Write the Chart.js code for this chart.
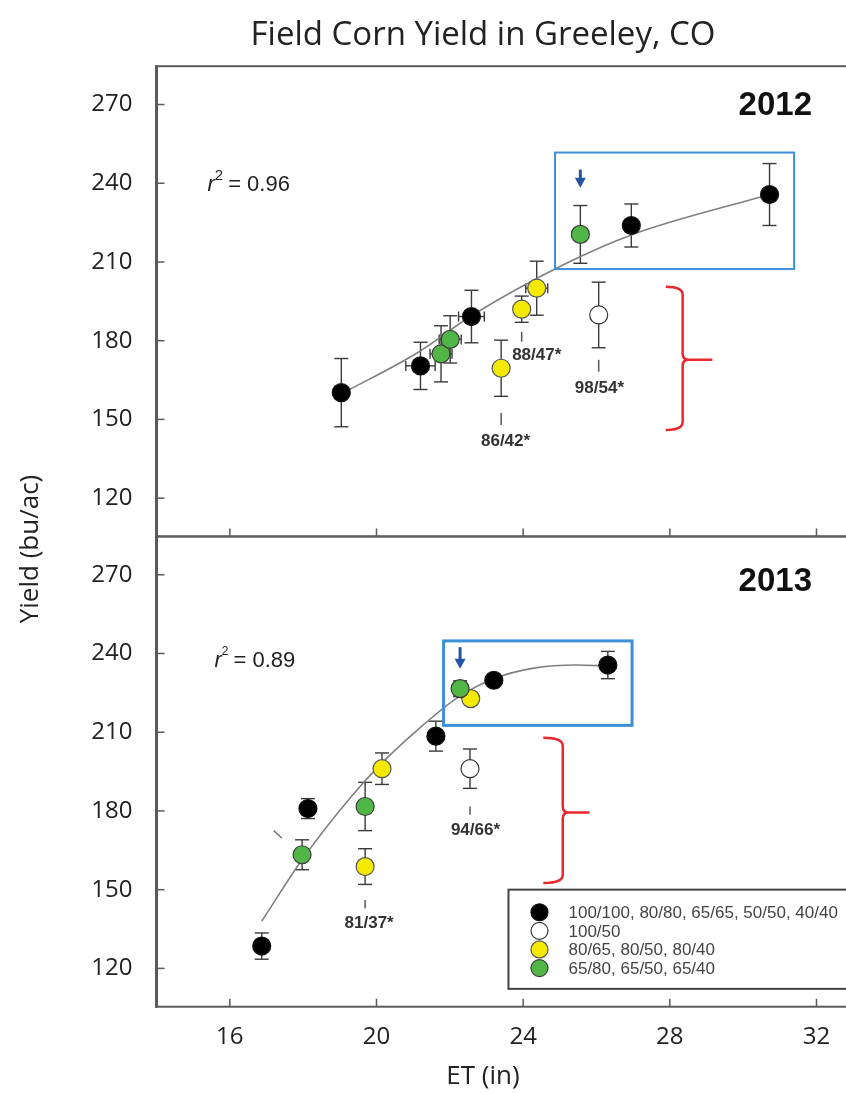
<!DOCTYPE html>
<html>
<head>
<meta charset="utf-8">
<title>Field Corn Yield in Greeley, CO</title>
<script src="https://cdn.jsdelivr.net/npm/chart.js@4.4.1/dist/chart.umd.min.js"></script>
<style>
  html, body { margin: 0; padding: 0; background: #fff; overflow: hidden; }
  #wrap { width: 900px; height: 1093px; }
</style>
</head>
<body>
<div id="wrap"><canvas id="yieldChart" width="900" height="1093"></canvas></div>
<script>
// Values
const groupLabels = ['100/100, 80/80, 65/65, 50/50, 40/40', '100/50', '80/65, 80/50, 80/40', '65/80, 65/50, 65/40'];
const xTicks = [16, 20, 24, 28, 32];
const yTicks = [120, 150, 180, 210, 240, 270];
const etMin = 14, etMax = 34;
const yieldMin = 105.4, yieldMax = 284.6;

// 2012
const full2012Et = [19.04, 21.2, 22.59, 26.95, 30.72];
const full2012Yield = [160.2, 170.4, 189.2, 223.9, 235.7];
const full2012Err = [13, 9, 10, 8.2, 11.8];
const full2012EtErr = [0, 0.4, 0.35, 0.2, 0];
const half2012Et = [26.06];
const half2012Yield = [189.8];
const half2012Err = [12.5];
const yellow2012Et = [23.4, 23.96, 24.37];
const yellow2012Yield = [169.5, 192, 200];
const yellow2012Err = [10.7, 5, 10.3];
const yellow2012EtErr = [0, 0, 0.3];
const green2012Et = [21.76, 22.01, 25.56];
const green2012Yield = [175, 180.5, 220.5];
const green2012Err = [10.7, 9, 11];
const green2012EtErr = [0.3, 0.3, 0];
const fit2012Et = [19.05, 21.13, 22.59, 25.18, 26.99, 30.72];
const fit2012Yield = [159.8, 175.5, 189.5, 209.5, 220.5, 235.7];

// 2013
const full2013Et = [16.87, 18.13, 21.62, 23.2, 26.31];
const full2013Yield = [128.5, 180.9, 208.5, 229.8, 235.6];
const full2013Err = [5, 3.8, 5.7, 1.5, 5.2];
const half2013Et = [22.55];
const half2013Yield = [196.1];
const half2013Err = [7.5];
const yellow2013Et = [19.69, 20.15, 22.57];
const yellow2013Yield = [158.8, 196.1, 222.8];
const yellow2013Err = [6.8, 6, 1.5];
const green2013Et = [17.97, 19.69, 22.28];
const green2013Yield = [163.3, 181.7, 226.6];
const green2013Err = [5.7, 9.2, 3];
const fit2013Et = [16.87, 17.97, 19.32, 20.15, 21.13, 22.21, 23.2, 24.37, 25.45, 26.31];
const fit2013Yield = [138, 161.4, 185.6, 198.3, 211, 223.2, 230.4, 234.6, 235.6, 235.2];

// Styling
const fills = ['#000000', '#ffffff', '#f4e900', '#50b646'];
const edges = ['#111111', '#333333', '#555555', '#3d3d3d'];
const stackOrder = [3, 2, 1, 0];
const sans = "'Open Sans', sans-serif";
const arial = "'Liberation Sans', Arial, sans-serif";

// Annotations, in data units of each panel
const notes = {
    yTop: {
        r2: [15.39, 239.3, '0.96', 15],
        year: [31.77, 269.4, '2012'],
        box: [24.87, 31.39, 207.3, 251.7],
        arrow: [25.56, 245.2, 238.3],
        brace: [27.89, 28.35, 29.16, 200.6, 172.7, 146],
        tags: [
            [23.4, 152.4, 147.9, 23.52, 141.6, '86/42*'],
            [23.96, 183.4, 179.6, 24.37, 174.6, '88/47*'],
            [26.06, 172.7, 168.2, 26.08, 162, '98/54*']
        ],
        strays: []
    },
    yBottom: {
        r2: [15.58, 237.1, '0.89', 12],
        year: [31.77, 267.2, '2013'],
        box: [21.83, 26.97, 212.6, 244.8],
        arrow: [22.28, 242.4, 234.2],
        brace: [24.55, 25.08, 25.81, 207.9, 179.4, 152.5],
        tags: [
            [22.55, 181.7, 178.5, 22.7, 172.8, '94/66*'],
            [19.69, 146.1, 142.9, 19.8, 137.2, '81/37*']
        ],
        strays: [[17.2, 172.5, 17.42, 169.6]]
    }
};

function pts(xs, ys) {
    return xs.map((x, i) => ({x: x, y: ys[i]}));
}

function groupSet(g, axis, xs, ys, err, etErr) {
    return {
        label: groupLabels[g],
        yAxisID: axis,
        data: pts(xs, ys),
        errY: err,
        errX: etErr || [],
        backgroundColor: fills[g],
        borderColor: edges[g],
        borderWidth: 1.2,
        pointRadius: 9,
        pointHoverRadius: 9,
        order: stackOrder[g]
    };
}

function fitSet(axis, xs, ys) {
    return {
        label: 'fit',
        yAxisID: axis,
        data: pts(xs, ys),
        showLine: true,
        borderColor: '#808080',
        borderWidth: 1.6,
        pointRadius: 0,
        cubicInterpolationMode: 'monotone',
        fill: false,
        order: 9
    };
}

function seg(ctx, x1, y1, x2, y2) {
    ctx.beginPath();
    ctx.moveTo(x1, y1);
    ctx.lineTo(x2, y2);
    ctx.stroke();
}

const decor = {
    id: 'decor',
    beforeDatasetsDraw(chart) {
        const ctx = chart.ctx;
        const x = chart.scales.x;
        ctx.save();
        ctx.strokeStyle = '#3a3a3a';
        ctx.lineWidth = 1.4;
        chart.data.datasets.forEach(ds => {
            if (!ds.errY) return;
            const y = chart.scales[ds.yAxisID];
            ds.data.forEach((p, i) => {
                const px = x.getPixelForValue(p.x);
                const py = y.getPixelForValue(p.y);
                const e = ds.errY[i] || 0;
                if (e) {
                    const t = y.getPixelForValue(p.y + e);
                    const b = y.getPixelForValue(p.y - e);
                    seg(ctx, px, t, px, b);
                    seg(ctx, px - 7, t, px + 7, t);
                    seg(ctx, px - 7, b, px + 7, b);
                }
                const h = ds.errX[i] || 0;
                if (h) {
                    const l = x.getPixelForValue(p.x - h);
                    const r = x.getPixelForValue(p.x + h);
                    seg(ctx, l, py, r, py);
                    seg(ctx, l, py - 5, l, py + 5);
                    seg(ctx, r, py - 5, r, py + 5);
                }
            });
        });
        ctx.restore();
    },
    afterDraw(chart) {
        const ctx = chart.ctx;
        const area = chart.chartArea;
        const x = chart.scales.x;
        ctx.save();

        // Panel frames and inward ticks
        ['yTop', 'yBottom'].forEach(id => {
            const y = chart.scales[id];
            ctx.strokeStyle = '#5a5a5a';
            ctx.lineWidth = 2;
            ctx.strokeRect(area.left, y.top, area.right - area.left + 20, y.bottom - y.top);
            ctx.lineWidth = 3;
            seg(ctx, area.left, y.top - 1, area.left, y.bottom + 1);
            ctx.lineWidth = 1.5;
            yTicks.forEach(v => {
                const py = y.getPixelForValue(v);
                seg(ctx, area.left, py, area.left + 8, py);
            });
            xTicks.forEach(v => {
                const px = x.getPixelForValue(v);
                seg(ctx, px, y.bottom, px, y.bottom - 8);
            });
        });

        // Annotations
        Object.keys(notes).forEach(id => {
            const y = chart.scales[id];
            const n = notes[id];
            const X = v => x.getPixelForValue(v);
            const Y = v => y.getPixelForValue(v);

            // highlight box
            ctx.strokeStyle = '#3d90d8';
            ctx.lineWidth = id === 'yTop' ? 2 : 3;
            ctx.strokeRect(X(n.box[0]), Y(n.box[3]), X(n.box[1]) - X(n.box[0]), Y(n.box[2]) - Y(n.box[3]));

            // arrow
            const ax = X(n.arrow[0]), a1 = Y(n.arrow[1]), a2 = Y(n.arrow[2]);
            ctx.strokeStyle = '#2553a3';
            ctx.fillStyle = '#2553a3';
            ctx.lineWidth = 3;
            seg(ctx, ax, a1, ax, a2 - 7);
            ctx.beginPath();
            ctx.moveTo(ax - 5.5, a2 - 10);
            ctx.lineTo(ax + 5.5, a2 - 10);
            ctx.lineTo(ax, a2);
            ctx.closePath();
            ctx.fill();

            // red brace
            const [sx, spx, tx, bt, bm, bb] = n.brace;
            const s0 = X(sx), s1 = X(spx), s2 = X(tx);
            const top = Y(bt), mid = Y(bm), bot = Y(bb);
            ctx.strokeStyle = '#e8282c';
            ctx.lineWidth = 2.5;
            ctx.beginPath();
            ctx.moveTo(s0, top);
            ctx.quadraticCurveTo(s1, top, s1, top + 8);
            ctx.lineTo(s1, mid - 6);
            ctx.quadraticCurveTo(s1, mid, s1 + 6, mid);
            ctx.lineTo(s2, mid);
            ctx.moveTo(s1 + 6, mid);
            ctx.quadraticCurveTo(s1, mid, s1, mid + 6);
            ctx.lineTo(s1, bot - 8);
            ctx.quadraticCurveTo(s1, bot, s0, bot);
            ctx.stroke();

            // treatment tags
            ctx.strokeStyle = '#555555';
            ctx.lineWidth = 1.5;
            ctx.fillStyle = '#333333';
            ctx.font = 'bold 17px ' + arial;
            ctx.textAlign = 'center';
            ctx.textBaseline = 'middle';
            n.tags.forEach(t => {
                seg(ctx, X(t[0]), Y(t[1]), X(t[0]), Y(t[2]));
                ctx.fillText(t[5], X(t[3]), Y(t[4]));
            });
            n.strays.forEach(s => {
                ctx.strokeStyle = '#777777';
                seg(ctx, X(s[0]), Y(s[1]), X(s[2]), Y(s[3]));
            });

            // year label
            ctx.fillStyle = '#111111';
            ctx.font = 'bold 33px ' + arial;
            ctx.textAlign = 'right';
            ctx.fillText(n.year[2], X(n.year[0]) + 4, Y(n.year[1]));

            // r squared
            const rx = X(n.r2[0]), ry = Y(n.r2[1]);
            ctx.fillStyle = '#222222';
            ctx.textAlign = 'left';
            ctx.font = 'italic 22px ' + arial;
            ctx.fillText('r', rx, ry);
            let cx = rx + ctx.measureText('r').width;
            ctx.font = n.r2[3] + 'px ' + arial;
            ctx.fillText('2', cx, ry - 9);
            cx += ctx.measureText('2').width + 5;
            ctx.font = '22px ' + arial;
            ctx.fillText('= ' + n.r2[2], cx, ry);
        });

        // Legend inside the 2013 panel
        const yb = chart.scales.yBottom;
        const lx = x.getPixelForValue(23.6);
        const ly = yb.getPixelForValue(150);
        const lb = yb.getPixelForValue(112.2);
        ctx.strokeStyle = '#444444';
        ctx.lineWidth = 2;
        ctx.fillStyle = '#ffffff';
        ctx.fillRect(lx, ly, chart.width - lx + 10, lb - ly);
        ctx.strokeRect(lx, ly, chart.width - lx + 10, lb - ly);
        ctx.font = '17px ' + arial;
        ctx.textAlign = 'left';
        ctx.textBaseline = 'middle';
        groupLabels.forEach((label, g) => {
            const ry = ly + 22.6 + g * 18.6;
            ctx.beginPath();
            ctx.arc(lx + 31, ry, 8.5, 0, Math.PI * 2);
            ctx.fillStyle = fills[g];
            ctx.fill();
            ctx.strokeStyle = edges[g];
            ctx.lineWidth = 1.2;
            ctx.stroke();
            ctx.fillStyle = '#444444';
            ctx.fillText(label, lx + 60, ry + 1);
        });

        // Titles
        ctx.fillStyle = '#222222';
        ctx.textAlign = 'center';
        ctx.font = '33px ' + sans;
        ctx.fillText('Field Corn Yield in Greeley, CO', 483, 36);
        ctx.font = '26px ' + sans;
        ctx.fillText('ET (in)', 483, 1077);
        ctx.translate(31, 549);
        ctx.rotate(-Math.PI / 2);
        ctx.fillText('Yield (bu/ac)', 0, 0);
        ctx.restore();
    }
};

function yScale() {
    return {
        type: 'linear',
        position: 'left',
        stack: 'panels',
        stackWeight: 1,
        min: yieldMin,
        max: yieldMax,
        afterBuildTicks: s => { s.ticks = yTicks.map(v => ({value: v})); },
        afterFit: s => { s.width = 156.5; },
        grid: {display: false, drawTicks: false},
        border: {display: false},
        ticks: {padding: 24, color: '#222222', font: {family: sans, size: 24}}
    };
}

document.addEventListener('DOMContentLoaded', function() {
    const ctx = document.getElementById('yieldChart');

    new Chart(ctx, {
        type: 'scatter',
        data: {
            datasets: [
                groupSet(0, 'yTop', full2012Et, full2012Yield, full2012Err, full2012EtErr),
                groupSet(1, 'yTop', half2012Et, half2012Yield, half2012Err),
                groupSet(2, 'yTop', yellow2012Et, yellow2012Yield, yellow2012Err, yellow2012EtErr),
                groupSet(3, 'yTop', green2012Et, green2012Yield, green2012Err, green2012EtErr),
                fitSet('yTop', fit2012Et, fit2012Yield),
                groupSet(0, 'yBottom', full2013Et, full2013Yield, full2013Err),
                groupSet(1, 'yBottom', half2013Et, half2013Yield, half2013Err),
                groupSet(2, 'yBottom', yellow2013Et, yellow2013Yield, yellow2013Err),
                groupSet(3, 'yBottom', green2013Et, green2013Yield, green2013Err),
                fitSet('yBottom', fit2013Et, fit2013Yield)
            ]
        },
        options: {
            responsive: false,
            animation: false,
            events: [],
            layout: {padding: {top: 66.2, left: 0, right: 4.1, bottom: 0}},
            plugins: {
                legend: {display: false},
                tooltip: {enabled: false}
            },
            scales: {
                x: {
                    type: 'linear',
                    position: 'bottom',
                    min: etMin,
                    max: etMax,
                    afterBuildTicks: s => { s.ticks = xTicks.map(v => ({value: v})); },
                    afterFit: s => { s.height = 86.3; },
                    grid: {display: false, drawTicks: false},
                    border: {display: false},
                    ticks: {padding: 16, color: '#222222', maxRotation: 0, font: {family: sans, size: 24}}
                },
                // stacked left axes are laid out last-defined on top
                yBottom: yScale(),
                yTop: yScale()
            }
        },
        plugins: [decor]
    });
});
</script>
</body>
</html>
